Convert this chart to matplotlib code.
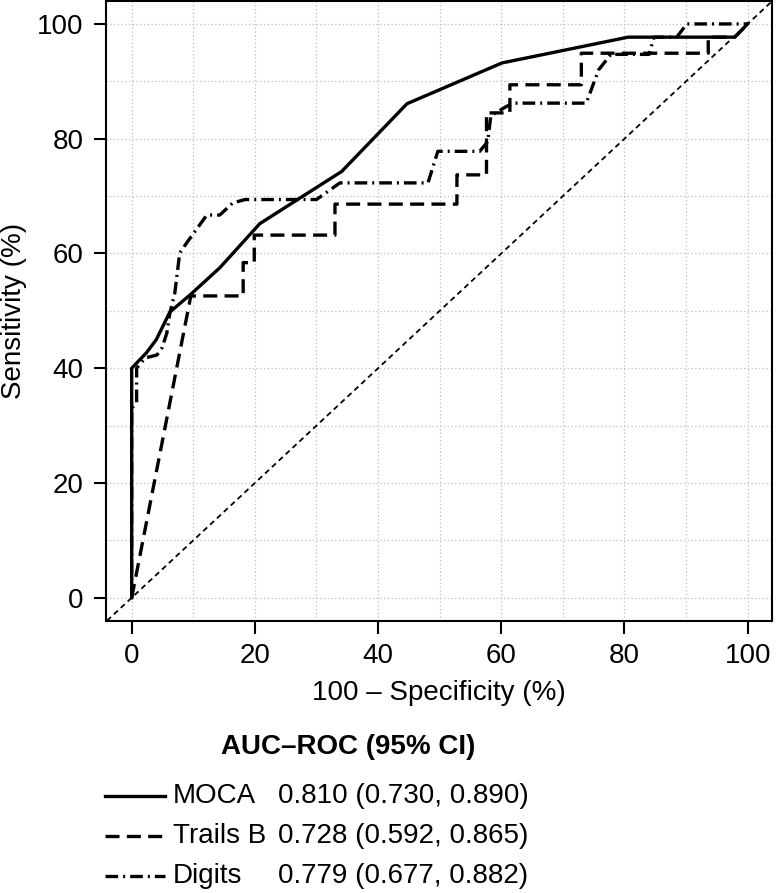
import matplotlib
matplotlib.use("Agg")
import matplotlib.pyplot as plt
from matplotlib.lines import Line2D

plt.rcParams['font.family'] = ['Liberation Sans', 'DejaVu Sans']

# ROC curves (100 - specificity, sensitivity)
moca_x = [0, 0, 2.4, 4.0, 6.2, 9.5, 14.3, 20.8, 34.1, 44.7, 60.1, 80.6, 97.9, 100]
moca_y = [0, 40, 42.7, 45.0, 49.8, 52.8, 57.5, 65.2, 74.3, 86.1, 93.2, 97.7, 97.7, 100]

trails_x = [0, 9.6, 18.1, 18.1, 19.9, 19.9, 33.0, 33.0, 52.8, 52.8, 57.6, 57.6,
            61.4, 61.4, 73.0, 73.0, 93.6, 93.6, 97.9, 100]
trails_y = [0, 52.6, 52.6, 58.4, 58.4, 63.2, 63.2, 68.6, 68.6, 73.7, 73.7, 84.5,
            84.5, 89.4, 89.4, 94.9, 94.9, 97.7, 97.7, 100]

digits_x = [0, 0, 0.8, 0.8, 2.2, 4.1, 4.9, 5.7, 6.2, 7.0, 7.8, 8.9, 12.2, 14.3,
            16.4, 18.4, 30.0, 33.8, 48.1, 49.7, 56.5, 57.8, 58.3, 60.8, 62.0,
            73.8, 75.8, 77.8, 84.0, 84.8, 88.5, 90.1, 100]
digits_y = [0, 33, 34, 40, 41.8, 42.3, 43.5, 46.1, 49.6, 53.1, 60.1, 61.8, 66.7,
            66.7, 68.8, 69.4, 69.4, 72.3, 72.3, 77.8, 77.8, 79.5, 84.0, 85.6,
            86.2, 86.2, 92.0, 94.7, 94.7, 97.7, 97.7, 100, 100]

names = ['MOCA', 'Trails B', 'Digits']
auc_text = ['0.810 (0.730, 0.890)', '0.728 (0.592, 0.865)', '0.779 (0.677, 0.882)']

ticks = [0, 20, 40, 60, 80, 100]
grid_at = list(range(0, 101, 10))

fs = 20
lw = 2.4
dash_trails = (0, (4.2, 2.2))
dash_digits = (0, (3.8, 1.5, 0.6, 1.5))
styles = ['-', dash_trails, dash_digits]

fig = plt.figure(figsize=(7.77, 8.93), dpi=100)
ax = fig.add_axes([106 / 777, 1 - 620.7 / 893, (772.3 - 106) / 777, (620.7 - 1) / 893])

# grid
for g in grid_at:
    ax.axvline(g, color='#bdbdbd', lw=0.9, ls=(0, (1, 2)), zorder=0)
    ax.axhline(g, color='#bdbdbd', lw=0.9, ls=(0, (1, 2)), zorder=0)

# chance line
ax.axline((0, 0), (100, 100), color='black', lw=1.3, ls=(0, (3, 2.2)), zorder=1)

ax.plot(moca_x, moca_y, color='black', lw=lw, ls='-', zorder=3)
ax.plot(trails_x, trails_y, color='black', lw=lw, ls=dash_trails, zorder=3)
ax.plot(digits_x, digits_y, color='black', lw=lw, ls=dash_digits, zorder=3)

ax.set_xlim(-4.17, 104.0)
ax.set_ylim(-4.0, 104.0)
ax.set_xticks(ticks)
ax.set_yticks(ticks)
ax.tick_params(direction='out', length=9, width=1.5, labelsize=fs, pad=7)
for s in ax.spines.values():
    s.set_linewidth(1.5)

ax.set_xlabel('100 \u2013 Specificity (%)', fontsize=fs, labelpad=8)
ax.set_ylabel('Sensitivity (%)', fontsize=fs, va='center')
ax.yaxis.set_label_coords(-0.138, 0.5)

# legend drawn by hand below the plot
fig.text(348 / 777, 1 - 747 / 893, 'AUC\u2013ROC (95% CI)', fontsize=fs,
         fontweight='bold', ha='center', va='center')
for i in range(3):
    yp = 1 - (796 + 40 * i) / 893
    fig.add_artist(Line2D([105 / 777, 165 / 777], [yp, yp], color='black',
                          lw=lw, ls=styles[i], transform=fig.transFigure))
    fig.text(173 / 777, yp, names[i], fontsize=fs, ha='left', va='center')
    fig.text(278 / 777, yp, auc_text[i], fontsize=fs, ha='left', va='center')

fig.savefig('out.png', dpi=100)
